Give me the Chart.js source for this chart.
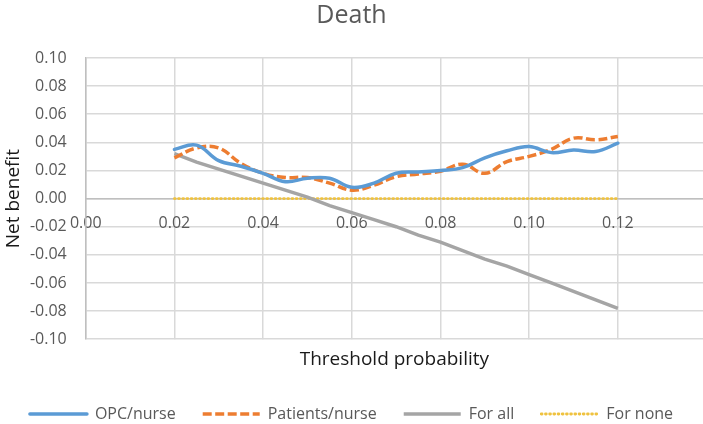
<!DOCTYPE html>
<html>
<head>
<meta charset="utf-8">
<script src="https://cdn.jsdelivr.net/npm/chart.js@4/dist/chart.umd.min.js"></script>
<style>
  html, body { margin: 0; padding: 0; background: #ffffff; }
  canvas { display: block; }
</style>
</head>
<body>
<canvas id="c" width="703" height="424"></canvas>
<script>
// ---- chart data ----
const chartTitle = 'Death';
const xAxisTitle = 'Threshold probability';
const yAxisTitle = 'Net benefit';
const seriesNames = ['OPC/nurse', 'Patients/nurse', 'For all', 'For none'];

const thresholds = [0.020, 0.025, 0.030, 0.035, 0.040, 0.045, 0.050, 0.055, 0.060, 0.065, 0.070,
                    0.075, 0.080, 0.085, 0.090, 0.095, 0.100, 0.105, 0.110, 0.115, 0.120];
const opcNurse      = [0.035, 0.038, 0.027, 0.023, 0.018, 0.012, 0.0145, 0.0145, 0.008, 0.011, 0.018,
                       0.019, 0.020, 0.022, 0.029, 0.034, 0.037, 0.0327, 0.0345, 0.0335, 0.0394];
const patientsNurse = [0.029, 0.036, 0.036, 0.025, 0.018, 0.015, 0.015, 0.011, 0.006, 0.0095, 0.0156,
                       0.0175, 0.0195, 0.0245, 0.018, 0.0263, 0.030, 0.035, 0.043, 0.0418, 0.0441];
const forAll        = [0.032, 0.026, 0.021, 0.016, 0.011, 0.006, 0.001, -0.005, -0.010, -0.015, -0.020,
                       -0.026, -0.031, -0.037, -0.043, -0.048, -0.054, -0.060, -0.066, -0.072, -0.078];
const forNone       = [0, 0, 0, 0, 0, 0, 0, 0, 0, 0, 0, 0, 0, 0, 0, 0, 0, 0, 0, 0, 0];

const xMin = 0, xMax = 0.1392, xStep = 0.02;
const yMin = -0.10, yMax = 0.10, yStep = 0.02;

// ---- build chart ----
const pts = arr => thresholds.map((t, i) => ({ x: t, y: arr[i] }));
const fmt = v => (Math.abs(v) < 1e-9 ? 0 : v).toFixed(2);

const FONT = "'Open Sans', 'DejaVu Sans', sans-serif";
const gridColor = '#d9d9d9';
const axisColor = '#bfbfbf';
const textColor = '#595959';

new Chart(document.getElementById('c'), {
  type: 'line',
  data: {
    datasets: [
      { label: seriesNames[0], data: pts(opcNurse), borderColor: '#5b9bd5', backgroundColor: '#5b9bd5',
        borderWidth: 3.5, tension: 0.4, pointRadius: 0, borderCapStyle: 'round' },
      { label: seriesNames[1], data: pts(patientsNurse), borderColor: '#ed7d31', backgroundColor: '#ed7d31',
        borderWidth: 3.5, tension: 0.4, pointRadius: 0, borderDash: [9, 3.5] },
      { label: seriesNames[2], data: pts(forAll), borderColor: '#a5a5a5', backgroundColor: '#a5a5a5',
        borderWidth: 3.5, tension: 0, pointRadius: 0 },
      { label: seriesNames[3], data: pts(forNone), borderColor: '#efc23f', backgroundColor: '#efc23f',
        borderWidth: 2.8, tension: 0, pointRadius: 0, borderDash: [0.8, 3.4], borderCapStyle: 'round' }
    ]
  },
  options: {
    responsive: false,
    animation: false,
    layout: { padding: { left: 0, right: 0, top: 0, bottom: -8 } },
    scales: {
      x: {
        type: 'linear',
        min: xMin, max: xMax,
        position: { y: 0 },
        grid: { color: gridColor, lineWidth: 1.5, drawTicks: false },
        border: { display: true, color: axisColor, width: 1.5 },
        ticks: {
          stepSize: xStep, includeBounds: false, padding: 15,
          color: textColor, font: { family: FONT, size: 16 },
          maxRotation: 0, autoSkip: false,
          callback: v => (v > 0.121 ? '' : fmt(v))
        }
      },
      x2: {
        type: 'linear',
        axis: 'x',
        position: 'bottom',
        min: 0, max: 1,
        grid: { display: false, drawTicks: false },
        border: { display: false },
        ticks: { display: false },
        title: { display: true, text: xAxisTitle, color: '#1a1a1a',
                 font: { family: FONT, size: 19 }, padding: { top: 9, bottom: 8 } }
      },
      y: {
        type: 'linear',
        min: yMin, max: yMax,
        position: 'left',
        grid: { color: gridColor, lineWidth: 1.5, drawTicks: false },
        border: { display: true, color: axisColor, width: 1.5 },
        ticks: { stepSize: yStep, padding: 19, color: textColor,
                 font: { family: FONT, size: 16 }, callback: v => fmt(v) },
        title: { display: true, text: yAxisTitle, color: '#1a1a1a',
                 font: { family: FONT, size: 19 }, padding: { top: 2, bottom: 0 } },
        afterFit: s => { s.width = 85.7; }
      }
    },
    plugins: {
      title: {
        display: true, text: chartTitle, color: textColor,
        font: { family: FONT, size: 25, weight: 'normal' },
        padding: { top: 1, bottom: 27 }
      },
      legend: {
        position: 'bottom',
        labels: {
          usePointStyle: true, pointStyle: 'line', pointStyleWidth: 57,
          padding: 27, color: textColor, font: { family: FONT, size: 16 },
          generateLabels: chart =>
            Chart.defaults.plugins.legend.labels.generateLabels(chart).map(item => {
              const ds = chart.data.datasets[item.datasetIndex];
              return Object.assign({}, item, {
                pointStyle: 'line',
                strokeStyle: ds.borderColor,
                fillStyle: ds.borderColor,
                lineWidth: ds.borderWidth,
                lineDash: ds.borderDash || [],
                lineDashOffset: 0,
                lineCap: ds.borderCapStyle || 'butt'
              });
            })
        }
      },
      tooltip: { enabled: false }
    }
  }
});
</script>
</body>
</html>
